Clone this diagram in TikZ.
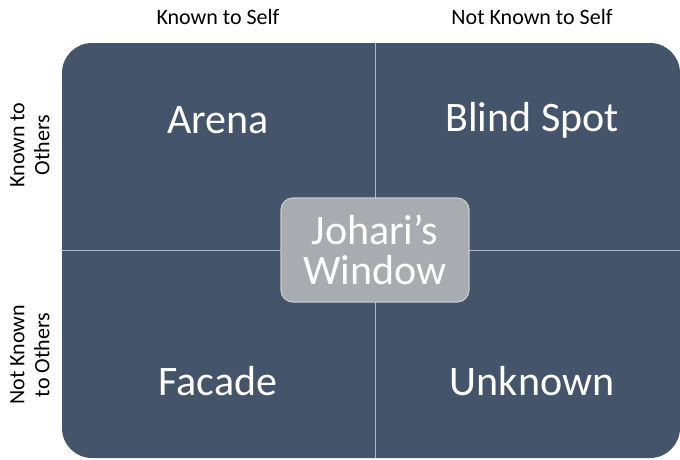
\documentclass[tikz,border=0pt]{standalone}
\usepackage{fontspec}
\setmainfont{Carlito}
\definecolor{slate}{HTML}{44546A}
\definecolor{paneline}{HTML}{B4BAC3}
\definecolor{centergray}{HTML}{A8ABB0}
\definecolor{centeredge}{HTML}{C8CACD}

\tikzstyle{quadrant}=[text=white,font=\fontsize{42}{46}\selectfont]
\tikzstyle{axislabel}=[text=black,font=\fontsize{22}{25}\selectfont,align=center]
\tikzstyle{centerbox}=[fill=centergray,draw=centeredge,line width=1.2pt,rounded corners=12pt,minimum width=188pt,minimum height=104pt,text=white,align=center,font=\fontsize{42}{40}\selectfont]

\begin{document}
\begin{tikzpicture}[x=1pt,y=-1pt]
      \useasboundingbox (0,0) rectangle (680,459);
      \fill[slate,rounded corners=30pt] (62,43) rectangle (680,458);
      % dividers
      \coordinate (top) at (375,43);
      \coordinate (bottom) at (375,458);
      \coordinate (left) at (62,250);
      \coordinate (right) at (680,250);
      \draw[paneline,line width=1pt] (top) -- (bottom);
      \draw[paneline,line width=1pt] (left) -- (right);
      \node [centerbox] (jw) at (375,250) {Johari’s\\Window};
      % quadrants
      \node [quadrant] (arena) at (218,120) {Arena};
      \node [quadrant] (blind) at (532,120) {Blind Spot};
      \node [quadrant] (facade) at (218,381) {Facade};
      \node [quadrant] (unknown) at (532,381) {Unknown};
      % axis labels
      \node [axislabel] (kself) at (218,17) {Known to Self};
      \node [axislabel] (nkself) at (532,17) {Not Known to Self};
      \node [axislabel,rotate=90] (kothers) at (30,145) {Known to\\Others};
      \node [axislabel,rotate=90] (nkothers) at (30,355) {Not Known\\to Others};
    \end{tikzpicture}
\end{document}
